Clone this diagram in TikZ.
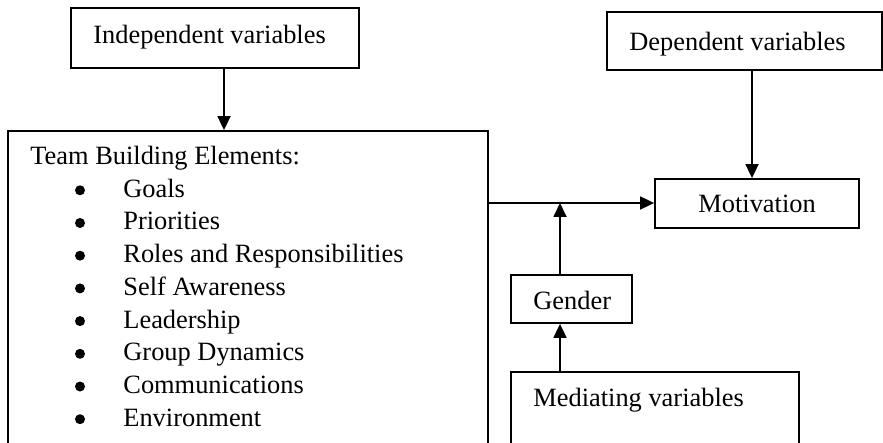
\documentclass[tikz,border=0pt]{standalone}
\usepackage{fontspec}
\setmainfont{Liberation Serif}
\usetikzlibrary{arrows.meta}
\begin{document}
\begin{tikzpicture}[x=0.5pt,y=-0.5pt,
  font=\fontsize{13.2}{15.8}\selectfont,
  boxn/.style={draw, line width=0.9pt, inner sep=0},
  txt/.style={anchor=base west, inner sep=0},
  bul/.style={circle, fill, inner sep=0, minimum size=5pt},
  arr/.style={-{Triangle[length=7pt,width=6.5pt]}, line width=0.9pt}]
\useasboundingbox (0,0) rectangle (883,443);
\clip (0,0) rectangle (883,443);
% boxes
\node[boxn, minimum width=144pt, minimum height=30pt] (indep) at (215,38) {};
\node[boxn, minimum width=137.5pt, minimum height=29pt] (dep) at (744.5,41) {};
\node[boxn, minimum width=240pt, minimum height=169.5pt] (team) at (248,300.5) {};
\node[boxn, minimum width=102pt, minimum height=24.5pt] (motiv) at (757,203.5) {};
\node[boxn, minimum width=60.5pt, minimum height=24pt] (gender) at (571.5,299) {};
\node[boxn, minimum width=144pt, minimum height=49pt] (med) at (655,421) {};
% texts
\node[txt] (indept) at (93,43.3) {Independent variables};
\node[txt] (dept) at (629,50.7) {Dependent variables};
\node[txt] (motivt) at (698,213) {Motivation};
\node[txt] (gendert) at (533,309.3) {Gender};
\node[txt] (medt) at (533,406) {Mediating variables};
\node[txt] (teamt) at (30,165) {Team Building Elements:};
\foreach \t [count=\i from 0] in {Goals,Priorities,Roles and Responsibilities,Self Awareness,Leadership,Group Dynamics,Communications,Environment}{
  \node[txt] (item\i) at (123,197.3+32.7*\i) {\t};
  \node[bul] (bul\i) at (80,190.3+32.7*\i) {};
}
% connectors
\coordinate (a1) at (224,0);
\draw[arr] (indep.south -| a1) -- (team.north -| a1);
\coordinate (a2) at (752,0);
\draw[arr] (dep.south -| a2) -- (motiv.north -| a2);
\coordinate (h) at (0,203);
\draw[arr] (team.east |- h) -- (motiv.west |- h);
\coordinate (j) at (560,203);
\draw[arr] (gender.north -| j) -- (j);
\draw[arr] (med.north -| j) -- (gender.south -| j);
\end{tikzpicture}
\end{document}
